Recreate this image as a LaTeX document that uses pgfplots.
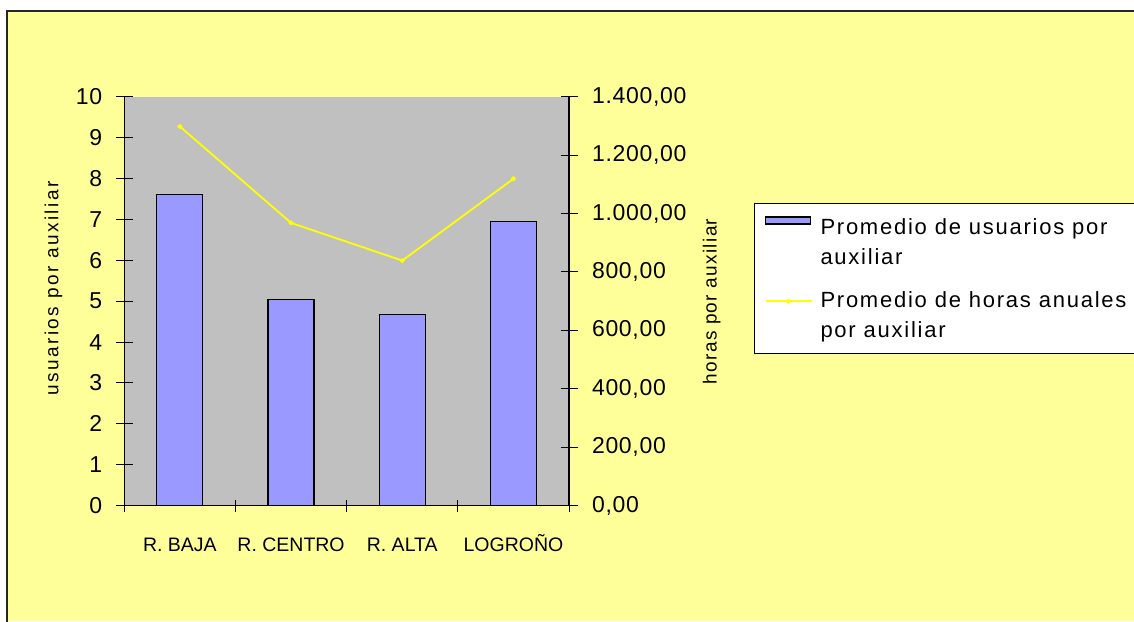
\documentclass[border=0pt]{standalone}
\usepackage{fontspec}
\setmainfont{Liberation Sans}
\newfontfamily\tickfont{Liberation Sans}[LetterSpace=3]
\newfontfamily\legfont{Liberation Sans}[LetterSpace=8]
\newfontfamily\labfontL{Liberation Sans}[LetterSpace=13]
\newfontfamily\labfontR{Liberation Sans}[LetterSpace=7]
\usepackage{pgfplots}
\pgfplotsset{compat=1.18}
\definecolor{bgyellow}{HTML}{FFFF99}
\definecolor{plotgrey}{HTML}{C0C0C0}
\definecolor{barblue}{HTML}{9999FF}
\definecolor{lineyellow}{HTML}{FFFF00}
\begin{document}
\begin{tikzpicture}[x=1pt,y=1pt]
\useasboundingbox (0,0) rectangle (1134,621);
\fill[white] (0,0) rectangle (1134,621);
\fill[bgyellow] (6.5,0) rectangle (1134,609.5);
\draw[line width=2pt, black!85] (6.5,-2) -- (6.5,609.5) -- (1136,609.5);
\begin{axis}[
  at={(124.3pt,115.3pt)}, anchor=south west,
  scale only axis, width=444.7pt, height=409pt,
  xmin=-0.5, xmax=3.5, ymin=0, ymax=10,
  axis x line*=bottom, axis y line*=left,
  axis line style={-, line width=1.2pt, black},
  axis background/.style={fill=plotgrey},
  xtick={0,1,2,3},
  xticklabels={R. BAJA, R. CENTRO, R. ALTA, LOGROÑO},
  major x tick style={draw=none},
  minor xtick={-0.5,0.5,1.5,2.5,3.5},
  ytick={0,1,...,10},
  tick align=center, major tick length=17pt, minor tick length=12pt,
  tick style={line width=1pt, black},
  /pgf/number format/assume math mode=true,
  y tick label style={font=\tickfont\fontsize{23}{25}\selectfont, xshift=-10pt},
  x tick label style={font=\fontsize{19.5}{22}\selectfont, anchor=base, yshift=-37pt},
  ylabel={usuarios por auxiliar},
  ylabel style={at={(axis description cs:-0.1484,0.5311)}, anchor=base, rotate=0, font=\labfontL\fontsize{19}{21}\selectfont},
  clip=false,
]
\addplot[ybar, bar width=46pt, fill=barblue, draw=black, line width=1.2pt]
  coordinates {(0,7.6) (1,5.05) (2,4.67) (3,6.95)};
\end{axis}
\begin{axis}[
  at={(124.3pt,115.3pt)}, anchor=south west,
  scale only axis, width=444.7pt, height=409pt,
  xmin=-0.5, xmax=3.5, ymin=0, ymax=1400,
  axis x line=none, axis y line*=right,
  axis line style={-, line width=1.2pt, black},
  ytick={0,200,...,1400},
  scaled y ticks=false,
  tick align=center, major tick length=17pt,
  tick style={line width=1pt, black},
  /pgf/number format/assume math mode=true,
  y tick label style={font=\tickfont\fontsize{23}{25}\selectfont, xshift=11pt,
    /pgf/number format/.cd, fixed, fixed zerofill, precision=2, use comma, 1000 sep={.}},
  ylabel={horas por auxiliar},
  ylabel style={at={(axis description cs:1.3319,0.4993)}, anchor=base, rotate=0, font=\labfontR\fontsize{19}{21}\selectfont},
  legend style={at={(axis description cs:1.416,0.740)}, anchor=north west,
    fill=white, draw=black, line width=1pt,
    font=\legfont\fontsize{22}{25}\selectfont,
    nodes={inner sep=0pt}, cells={anchor=base west},
    inner xsep=10pt, inner ysep=7pt, row sep=10pt, column sep=8pt},
  clip=false,
]
\addlegendimage{legend image code/.code={\draw[fill=barblue,draw=black,line width=1.2pt] (0pt,10.5pt) rectangle (45pt,17.5pt);}}
\addlegendentry[text height=24pt, text depth=5pt]{Promedio de usuarios por}
\addlegendimage{empty legend}
\addlegendentry[text height=15pt, text depth=18.3pt]{auxiliar}
\addplot[lineyellow, line width=1.8pt, mark=*, mark size=1.5pt,
  legend image code/.code={\draw[lineyellow, line width=2pt] (0pt,6.5pt) -- (46pt,6.5pt); \fill[lineyellow] (23pt,6.5pt) circle (1.5pt);}]
  coordinates {(0,1298) (1,968) (2,839) (3,1119)};
\addlegendentry[text height=15pt, text depth=5pt]{Promedio de horas anuales}
\addlegendimage{empty legend}
\addlegendentry[text height=15pt, text depth=8.3pt]{por auxiliar}
\end{axis}
\end{tikzpicture}
\end{document}
